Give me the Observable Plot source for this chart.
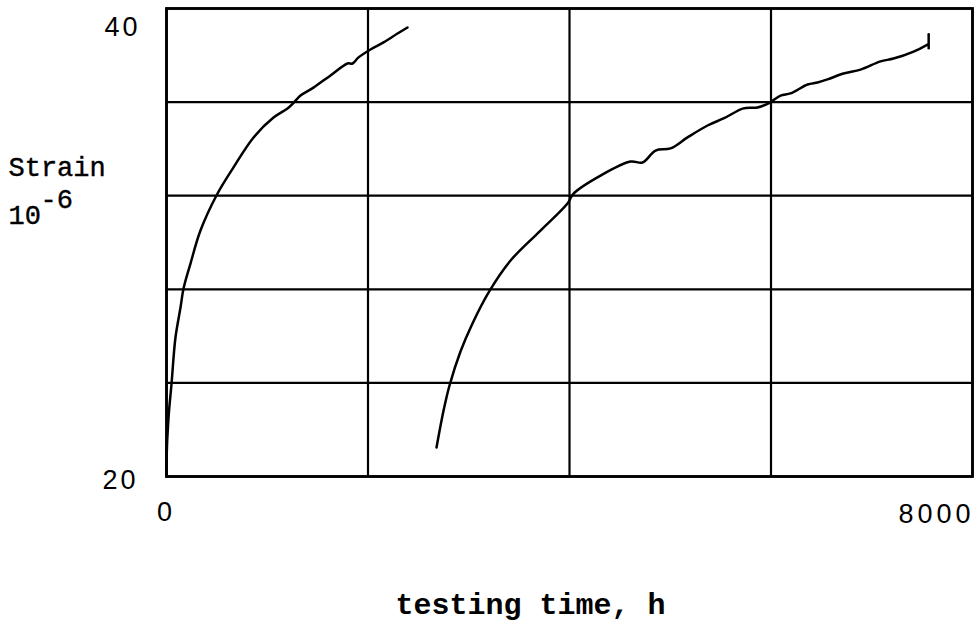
<!DOCTYPE html>
<html>
<head>
<meta charset="utf-8">
<script src="https://cdn.jsdelivr.net/npm/d3@7"></script>
<script src="https://cdn.jsdelivr.net/npm/@observablehq/plot@0.6"></script>
<style>
  html, body { margin: 0; padding: 0; background: #fff; }
  #chart svg { display: block; }
</style>
</head>
<body>
<div id="chart"></div>
<script>
// Curve 1 (first test): testing time (h) vs strain (10^-6)
const curve1Hours  = [0, 0, 20, 50, 89, 139, 169, 238, 337, 496, 665, 864, 1062, 1201, 1261, 1330, 1459, 1628, 1797, 1846, 1906, 2025, 2154, 2293, 2392];
const curve1Strain = [20.0, 20.68, 22.52, 23.97, 25.94, 27.22, 28.03, 29.10, 30.51, 32.01, 33.21, 34.49, 35.34, 35.73, 35.97, 36.28, 36.62, 37.14, 37.65, 37.65, 37.91, 38.25, 38.55, 38.93, 39.19];

// Curve 2 (second test)
const curve2Hours  = [2680, 2750, 2809, 2918, 3037, 3196, 3415, 3712, 3980, 4040, 4308, 4606, 4725, 4854, 5003, 5171, 5370, 5529, 5727, 5866, 5985, 6095, 6194, 6363, 6462, 6561, 6720, 6889, 7087, 7216, 7415, 7554];
const curve2Strain = [21.24, 22.82, 23.89, 25.34, 26.54, 27.86, 29.23, 30.51, 31.67, 32.09, 32.86, 33.46, 33.42, 33.93, 34.02, 34.49, 35.00, 35.30, 35.73, 35.77, 35.97, 36.28, 36.37, 36.75, 36.84, 36.97, 37.22, 37.39, 37.74, 37.86, 38.16, 38.46];

// small end mark on curve 2
const endMarkHours  = [7565, 7565];
const endMarkStrain = [38.30, 38.90];

// grid and tick labels
const xGrid = [0, 2000, 4000, 6000, 8000];
const yGrid = [20, 24, 28, 32, 36, 40];
const xTickLabels = ["0", "8000"];
const yTickLabels = ["20", "40"];
const xTickValues = [0, 8000];
const yTickValues = [20, 40];

const yLabel = "Strain";
const yUnitBase = "10";
const yUnitExp = "-6";
const xLabel = "testing time, h";

const c1 = curve1Hours.map((h, i) => ({h, s: curve1Strain[i]}));
const c2 = curve2Hours.map((h, i) => ({h, s: curve2Strain[i]}));
const em = endMarkHours.map((h, i) => ({h, s: endMarkStrain[i]}));

const sans = "'Liberation Sans', Arial, sans-serif";
const mono = "'Liberation Mono', 'Courier New', monospace";

const chart = Plot.plot({
  width: 974,
  height: 629,
  marginLeft: 166,
  marginRight: 2,
  marginTop: 8,
  marginBottom: 153,
  x: {domain: [0, 8000], axis: null},
  y: {domain: [20, 40], axis: null},
  style: {background: "#fff", color: "#000"},
  marks: [
    Plot.ruleX(xGrid, {stroke: "#000", strokeWidth: 2.2}),
    Plot.ruleY(yGrid, {stroke: "#000", strokeWidth: 2.2}),
    Plot.frame({stroke: "#000", strokeWidth: 2.8}),
    Plot.line(c1, {x: "h", y: "s", stroke: "#000", strokeWidth: 2.5, curve: "catmull-rom"}),
    Plot.line(c2, {x: "h", y: "s", stroke: "#000", strokeWidth: 2.5, curve: "catmull-rom"}),
    Plot.line(em, {x: "h", y: "s", stroke: "#000", strokeWidth: 2.5}),
    // y tick labels
    Plot.text([yTickLabels[1]], {x: () => 0, y: () => yTickValues[1], text: d => d, textAnchor: "end", lineAnchor: "bottom", dx: -26, dy: 27, fontFamily: sans, fontSize: 27, fill: "#000"}),
    Plot.text([yTickLabels[0]], {x: () => 0, y: () => yTickValues[0], text: d => d, textAnchor: "end", lineAnchor: "bottom", dx: -28, dy: 12, fontFamily: sans, fontSize: 27, fill: "#000"}),
    // x tick labels
    Plot.text([xTickLabels[0]], {x: () => xTickValues[0], y: () => 20, text: d => d, textAnchor: "middle", lineAnchor: "bottom", dx: -2, dy: 44, fontFamily: sans, fontSize: 27, fill: "#000"}),
    Plot.text([xTickLabels[1]], {x: () => xTickValues[1], y: () => 20, text: d => d, textAnchor: "end", lineAnchor: "bottom", dx: 2, dy: 46, fontFamily: sans, fontSize: 27, fill: "#000"}),
    // y axis label
    Plot.text([yLabel], {frameAnchor: "top-left", text: d => d, textAnchor: "start", lineAnchor: "bottom", dx: -158, dy: 167, fontFamily: mono, fontSize: 27, fill: "#000", stroke: "#000", strokeWidth: 0.4}),
    Plot.text([yUnitBase], {frameAnchor: "top-left", text: d => d, textAnchor: "start", lineAnchor: "bottom", dx: -158, dy: 215, fontFamily: mono, fontSize: 27, fill: "#000", stroke: "#000", strokeWidth: 0.4}),
    Plot.text([yUnitExp], {frameAnchor: "top-left", text: d => d, textAnchor: "start", lineAnchor: "bottom", dx: -126, dy: 199, fontFamily: mono, fontSize: 27, fill: "#000", stroke: "#000", strokeWidth: 0.4}),
    // x axis label
    Plot.text([xLabel], {frameAnchor: "bottom", text: d => d, textAnchor: "middle", lineAnchor: "bottom", dx: -39, dy: 137, fontFamily: mono, fontSize: 30, fontWeight: "bold", fill: "#000"})
  ]
});
// typewriter-like spacing for the tick digits
const tickSet = new Set([...xTickLabels, ...yTickLabels]);
d3.select(chart).selectAll("text")
  .filter(function () { return tickSet.has(this.textContent) && this.textContent.length > 1; })
  .style("letter-spacing", function () { return this.textContent.length > 2 ? "4px" : "3px"; });
document.getElementById("chart").appendChild(chart);
</script>
</body>
</html>
